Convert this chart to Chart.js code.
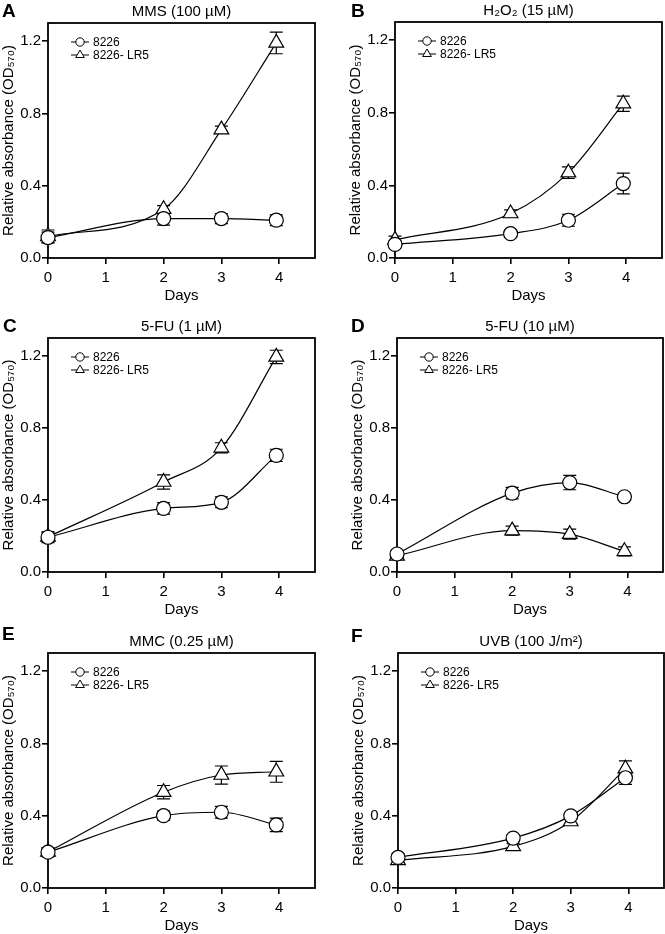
<!DOCTYPE html>
<html>
<head>
<meta charset="utf-8">
<script src="https://cdn.jsdelivr.net/npm/chart.js@4.4.1/dist/chart.umd.min.js"></script>
<style>
  body { margin: 0; background: #fff; width: 665px; height: 934px; position: relative; overflow: hidden;
         font-family: "Liberation Sans", Arial, sans-serif; }
  canvas { position: absolute; }
  .letter { position: absolute; font-weight: bold; font-size: 19px; line-height: 1; color: #000; }
</style>
</head>
<body>
<script>
// x values (days) and axis ticks
const days = [0, 2, 3, 3.95];
const xTicks = [0, 1, 2, 3, 4];
const yTicks = [0, 0.4, 0.8, 1.2];
const seriesNames = ['8226', '8226- LR5'];
const panelLetters = ['A', 'B', 'C', 'D', 'E', 'F'];
const panelTitles = ['MMS (100 µM)', 'H₂O₂ (15 µM)', '5-FU (1 µM)', '5-FU (10 µM)', 'MMC (0.25 µM)', 'UVB (100 J/m²)'];

// A - MMS
const mmsParent = [0.113, 0.218, 0.218, 0.209];
const mmsParentErr = [0.03, 0.036, 0.028, 0.03];
const mmsLr5 = [0.12, 0.27, 0.71, 1.19];
const mmsLr5Err = [0.035, 0.02, 0.02, 0.06];
// B - H2O2
const h2o2Parent = [0.075, 0.134, 0.208, 0.41];
const h2o2ParentErr = [0.02, 0.02, 0.033, 0.057];
const h2o2Lr5 = [0.10, 0.245, 0.47, 0.85];
const h2o2Lr5Err = [0.02, 0.02, 0.032, 0.042];
// C - 5-FU 1 uM
const fu1Parent = [0.193, 0.353, 0.387, 0.648];
const fu1ParentErr = [0.03, 0.032, 0.03, 0.034];
const fu1Lr5 = [0.195, 0.50, 0.69, 1.195];
const fu1Lr5Err = [0.025, 0.04, 0.028, 0.037];
// D - 5-FU 10 uM
const fu10Parent = [0.10, 0.438, 0.497, 0.418];
const fu10ParentErr = [0.02, 0.032, 0.04, 0.02];
const fu10Lr5 = [0.09, 0.23, 0.21, 0.115];
const fu10Lr5Err = [0.02, 0.025, 0.028, 0.025];
// E - MMC
const mmcParent = [0.198, 0.40, 0.419, 0.349];
const mmcParentErr = [0.025, 0.025, 0.032, 0.037];
const mmcLr5 = [0.2, 0.53, 0.625, 0.643];
const mmcLr5Err = [0.02, 0.037, 0.05, 0.058];
// F - UVB
const uvbParent = [0.169, 0.276, 0.399, 0.61];
const uvbParentErr = [0.02, 0.02, 0.015, 0.037];
const uvbLr5 = [0.153, 0.23, 0.368, 0.66];
const uvbLr5Err = [0.02, 0.015, 0.015, 0.043];

// where each plot box sits on the page: left, top, right, bottom
const plotBoxes = [
  [48, 23, 315, 258],
  [395, 22, 662, 258],
  [48, 338, 315, 572],
  [397, 338, 663, 572],
  [48, 653, 315, 888],
  [398, 653, 664, 888]
];
const letterPos = [[2, 1], [351, 1], [3, 316], [351, 316], [2, 624], [351, 626]];

const FONT = '"Liberation Sans", Arial, sans-serif';
Chart.defaults.font.family = FONT;
Chart.defaults.color = '#000';

const Y_AXIS_W = 48, X_AXIS_H = 52, TITLE_H = 23, PAD_R = 3;

const frame = {
  id: 'frame',
  beforeDatasetsDraw(chart) {
    const {ctx, chartArea: a} = chart;
    ctx.save();
    ctx.strokeStyle = '#000';
    ctx.lineWidth = 1.8;
    ctx.strokeRect(a.left, a.top, a.right - a.left, a.bottom - a.top);
    ctx.restore();
  }
};

const errorBars = {
  id: 'errorBars',
  beforeDatasetsDraw(chart) {
    const {ctx} = chart;
    const ys = chart.scales.y;
    ctx.save();
    ctx.strokeStyle = '#000';
    ctx.lineWidth = 1.2;
    chart.data.datasets.forEach((ds, di) => {
      const meta = chart.getDatasetMeta(di);
      meta.data.forEach((pt, k) => {
        const v = ds.data[k].y, e = ds.errs[k];
        const top = ys.getPixelForValue(v + e);
        const bot = ys.getPixelForValue(v - e);
        ctx.beginPath();
        ctx.moveTo(pt.x, top); ctx.lineTo(pt.x, bot);
        ctx.moveTo(pt.x - 6.5, top); ctx.lineTo(pt.x + 6.5, top);
        ctx.moveTo(pt.x - 6.5, bot); ctx.lineTo(pt.x + 6.5, bot);
        ctx.stroke();
      });
    });
    ctx.restore();
  }
};

const insetLegend = {
  id: 'insetLegend',
  afterDatasetsDraw(chart) {
    const {ctx, chartArea: a} = chart;
    ctx.save();
    chart.data.datasets.forEach((ds, i) => {
      const x = a.left + 32, y = a.top + 19 + i * 13;
      ctx.strokeStyle = '#000';
      ctx.lineWidth = 1;
      ctx.beginPath();
      ctx.moveTo(x - 9, y); ctx.lineTo(x + 9, y);
      ctx.stroke();
      ctx.fillStyle = '#fff';
      Chart.helpers.drawPoint(ctx, {pointStyle: ds.pointStyle, radius: ds.pointStyle === 'triangle' ? 5 : 4.2, borderWidth: 1, rotation: 0}, x, y);
      ctx.fillStyle = '#000';
      ctx.font = '12px ' + FONT;
      ctx.textBaseline = 'middle';
      ctx.fillText(ds.label, x + 13, y + 0.5);
    });
    ctx.restore();
  }
};

function series(label, values, errs, style) {
  return {
    label: label,
    data: days.map((d, k) => ({x: d, y: values[k]})),
    errs: errs,
    pointStyle: style,
    borderColor: '#000',
    borderWidth: 1.2,
    pointRadius: style === 'triangle' ? 8.5 : 7,
    pointBackgroundColor: '#fff',
    pointBorderColor: '#000',
    pointBorderWidth: 1.2,
    fill: false,
    cubicInterpolationMode: 'monotone',
    clip: false
  };
}

function makePanel(i, parent, parentErr, lr5, lr5Err) {
  const [l, t, r, b] = plotBoxes[i];
  const left = l - Y_AXIS_W, top = t - TITLE_H;
  const cv = document.createElement('canvas');
  cv.width = r - left + PAD_R;
  cv.height = b - top + X_AXIS_H;
  cv.style.left = left + 'px';
  cv.style.top = top + 'px';
  document.body.appendChild(cv);

  const lt = document.createElement('div');
  lt.className = 'letter';
  lt.textContent = panelLetters[i];
  lt.style.left = letterPos[i][0] + 'px';
  lt.style.top = letterPos[i][1] + 'px';
  document.body.appendChild(lt);

  new Chart(cv, {
    type: 'line',
    data: {
      datasets: [
        series(seriesNames[0], parent, parentErr, 'circle'),
        series(seriesNames[1], lr5, lr5Err, 'triangle')
      ]
    },
    options: {
      responsive: false,
      animation: false,
      devicePixelRatio: 1,
      layout: {autoPadding: false, padding: {left: 0, right: PAD_R, top: 0, bottom: 0}},
      plugins: {
        legend: {display: false},
        tooltip: {enabled: false},
        title: {
          display: true, text: panelTitles[i], fullSize: false, color: '#000',
          font: {size: 15, weight: 'normal'}, padding: {top: 3, bottom: 2}
        }
      },
      scales: {
        x: {
          type: 'linear', min: 0, max: 4.62,
          afterBuildTicks: s => { s.ticks = xTicks.map(v => ({value: v})); },
          afterFit: s => { s.height = X_AXIS_H; },
          grid: {drawOnChartArea: false, drawTicks: true, tickLength: 6, color: '#000', lineWidth: 1.6},
          border: {display: false},
          ticks: {color: '#000', font: {size: 15}, padding: 5, maxRotation: 0, callback: v => String(v)},
          title: {display: true, text: 'Days', color: '#000', font: {size: 15}, padding: {top: 0, bottom: 5}}
        },
        y: {
          type: 'linear', min: 0, max: 1.3,
          afterBuildTicks: s => { s.ticks = yTicks.map(v => ({value: v})); },
          afterFit: s => { s.width = Y_AXIS_W; },
          grid: {drawOnChartArea: false, drawTicks: true, tickLength: 6, color: '#000', lineWidth: 1.6},
          border: {display: false},
          ticks: {color: '#000', font: {size: 15}, padding: 1, callback: v => v.toFixed(1)},
          title: {display: true, text: 'Relative absorbance (OD₅₇₀)', color: '#000', font: {size: 15}, padding: {top: 0, bottom: 0}}
        }
      }
    },
    plugins: [frame, errorBars, insetLegend]
  });
}

makePanel(0, mmsParent, mmsParentErr, mmsLr5, mmsLr5Err);
makePanel(1, h2o2Parent, h2o2ParentErr, h2o2Lr5, h2o2Lr5Err);
makePanel(2, fu1Parent, fu1ParentErr, fu1Lr5, fu1Lr5Err);
makePanel(3, fu10Parent, fu10ParentErr, fu10Lr5, fu10Lr5Err);
makePanel(4, mmcParent, mmcParentErr, mmcLr5, mmcLr5Err);
makePanel(5, uvbParent, uvbParentErr, uvbLr5, uvbLr5Err);
</script>
</body>
</html>
